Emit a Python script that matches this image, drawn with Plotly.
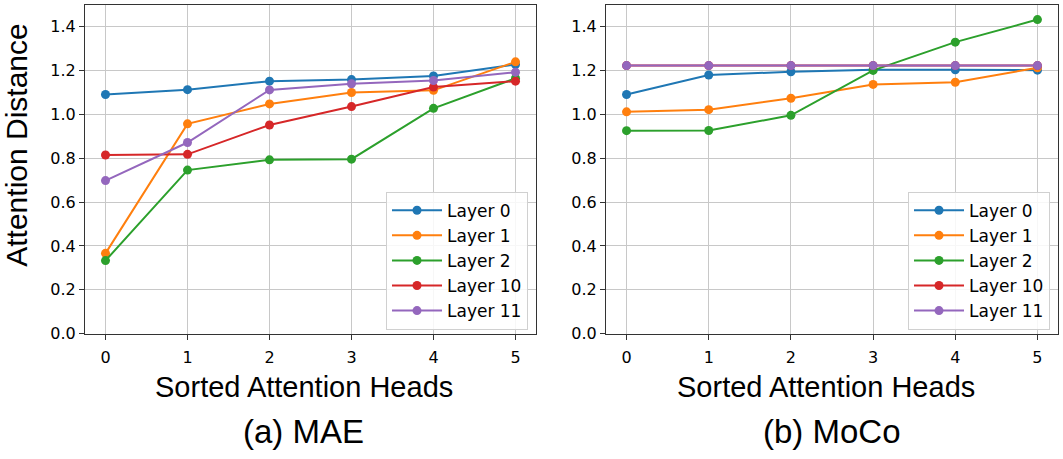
import plotly.graph_objects as go

# sorted head index on x
heads = [0, 1, 2, 3, 4, 5]
layer_names = ["Layer 0", "Layer 1", "Layer 2", "Layer 10", "Layer 11"]
colors = ["#1f77b4", "#ff7f0e", "#2ca02c", "#d62728", "#9467bd"]

# (a) MAE
mae_layer0 = [1.091, 1.113, 1.152, 1.159, 1.176, 1.228]
mae_layer1 = [0.366, 0.957, 1.048, 1.100, 1.110, 1.240]
mae_layer2 = [0.333, 0.746, 0.793, 0.796, 1.028, 1.165]
mae_layer10 = [0.815, 0.818, 0.952, 1.036, 1.125, 1.152]
mae_layer11 = [0.698, 0.872, 1.112, 1.140, 1.155, 1.193]

# (b) MoCo  (layer 10 sits under layer 11)
moco_layer0 = [1.091, 1.180, 1.195, 1.204, 1.204, 1.202]
moco_layer1 = [1.012, 1.022, 1.074, 1.137, 1.147, 1.213]
moco_layer2 = [0.926, 0.927, 0.996, 1.201, 1.330, 1.433]
moco_layer10 = [1.223, 1.223, 1.223, 1.223, 1.223, 1.223]
moco_layer11 = [1.223, 1.223, 1.223, 1.223, 1.223, 1.223]

y_ticks = [0.0, 0.2, 0.4, 0.6, 0.8, 1.0, 1.2, 1.4]

W, H = 1063, 459
TICK_FONT = dict(family="DejaVu Sans", size=16, color="#000")
LABEL_FONT = "Liberation Sans"

panels = [
    ([mae_layer0, mae_layer1, mae_layer2, mae_layer10, mae_layer11], "x", "y", "legend"),
    ([moco_layer0, moco_layer1, moco_layer2, moco_layer10, moco_layer11], "x2", "y2", "legend2"),
]

fig = go.Figure()
for series, xa, ya, leg in panels:
    for name, vals, col in zip(layer_names, series, colors):
        fig.add_trace(go.Scatter(
            x=heads, y=vals, name=name, mode="lines+markers",
            line=dict(color=col, width=2),
            marker=dict(color=col, size=9),
            xaxis=xa, yaxis=ya, legend=leg,
        ))

def px_x(p):
    return p / W

def px_y(p):
    return 1 - p / H

axis_common = dict(
    showline=True, linecolor="#333", linewidth=1, mirror=True,
    showgrid=True, gridcolor="#c8c8c8", gridwidth=1, zeroline=False,
    ticks="outside", ticklen=5, tickcolor="#333", tickfont=TICK_FONT,
)
x_extra = dict(range=[-0.25, 5.25], tickvals=heads, ticklabelstandoff=4)
y_extra = dict(domain=[px_y(341), px_y(5)], range=[0, 1.5], tickvals=y_ticks, tickformat=".1f")

legend_style = dict(xanchor="right", yanchor="bottom", itemwidth=50,
                    bgcolor="rgba(255,255,255,0.85)", bordercolor="#d0d0d0", borderwidth=1,
                    font=dict(family="DejaVu Sans", size=17, color="#000"))

fig.update_layout(
    width=W, height=H,
    margin=dict(l=0, r=0, t=0, b=0),
    paper_bgcolor="white", plot_bgcolor="white",
    xaxis=dict(domain=[px_x(85), px_x(536)], anchor="y", **x_extra, **axis_common),
    yaxis=dict(anchor="x", **y_extra, **axis_common),
    xaxis2=dict(domain=[px_x(606), px_x(1058)], anchor="y2", **x_extra, **axis_common),
    yaxis2=dict(anchor="x2", **y_extra, **axis_common),
    legend=dict(x=px_x(528), y=px_y(337), **legend_style),
    legend2=dict(x=px_x(1050), y=px_y(337), **legend_style),
    showlegend=True,
)

labels = [
    ("Sorted Attention Heads", 304, 396, 29, 0),
    ("Sorted Attention Heads", 826, 396, 29, 0),
    ("(a) MAE", 303, 441, 33, 0),
    ("(b) MoCo", 832, 441, 33, 0),
    ("Attention Distance", 17, 149, 30, -90),
]
for text, cx, cy, size, angle in labels:
    fig.add_annotation(text=text, xref="paper", yref="paper", x=px_x(cx), y=px_y(cy),
                       xanchor="center", yanchor="middle", showarrow=False,
                       textangle=angle, font=dict(family=LABEL_FONT, size=size, color="#000"))

# drop the page's default body margin so the figure sits at the top-left corner
fig.write_html("out.html", config={"displayModeBar": False},
               post_script="document.body.style.margin='0';")
